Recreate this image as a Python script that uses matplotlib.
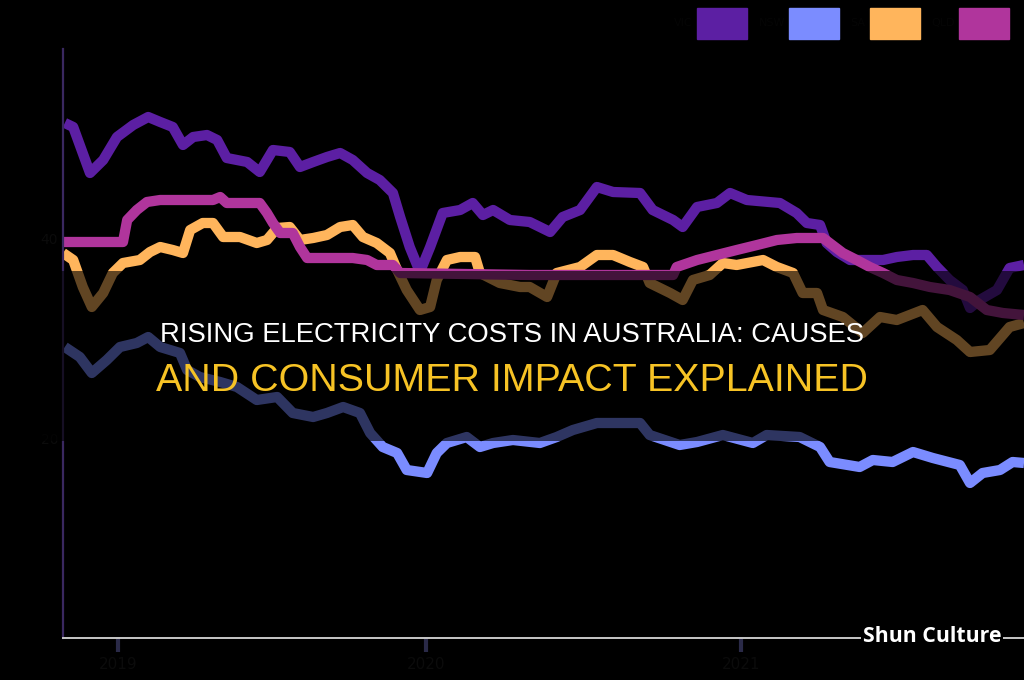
import matplotlib
matplotlib.use("Agg")
import matplotlib.pyplot as plt
from matplotlib.patches import Patch, Rectangle

# ---- data (x in weeks from start, y in c/kWh-like units) ----
series_names = ["VIC", "NSW", "SA", "QLD"]
colors = ["#5c1fa3", "#7b8cff", "#ffb55c", "#b0359c"]

purple_x = [0.3, 1.7, 4.5, 6.7, 9.0, 11.7, 14.2, 16.2, 18.3, 20.0, 21.7, 24.0, 25.7, 27.3, 30.7, 32.8,
            35.0, 37.8, 39.5, 41.7, 44.0, 46.2, 48.3, 50.7, 52.8, 55.0, 56.2, 57.8, 59.5, 61.2, 63.3,
            66.2, 68.3, 70.0, 71.7, 74.5, 77.8, 81.2, 83.3, 86.2, 89.0, 91.7, 96.2, 98.3, 101.7, 103.3,
            105.7, 109.0, 111.2, 114.0, 119.5, 122.3, 124.0, 126.2, 127.3, 129.0, 131.2, 134.5, 136.7,
            139.0, 141.7, 144.0, 145.7, 147.8, 150.0, 151.2, 152.8, 155.7, 157.8, 160.2]
purple_y = [51.5, 51.1, 46.5, 47.8, 50.1, 51.3, 52.1, 51.6, 51.1, 49.3, 50.1, 50.3, 49.8, 48.0, 47.6, 46.6,
            48.8, 48.6, 47.1, 47.6, 48.1, 48.5, 47.8, 46.5, 45.8, 44.5, 42.1, 39.1, 36.6, 39.1, 42.5,
            42.8, 43.5, 42.3, 42.8, 41.8, 41.6, 40.6, 42.1, 42.8, 45.1, 44.6, 44.5, 42.8, 41.8, 41.1,
            43.1, 43.5, 44.5, 43.8, 43.5, 42.5, 41.5, 41.3, 39.5, 38.6, 37.8, 37.8, 37.8,
            38.1, 38.3, 38.3, 37.1, 35.8, 34.8, 33.0, 33.8, 34.8, 37.0, 37.3]

blue_x = [0.3, 2.8, 4.8, 7.3, 9.5, 12.3, 14.2, 16.2, 19.5, 20.7, 22.8, 26.2, 29.0, 32.3, 35.7, 38.3,
          41.7, 44.0, 46.7, 49.5, 51.2, 53.3, 55.7, 57.3, 60.7, 62.3, 64.0, 67.3, 69.5, 71.7, 75.0,
          79.5, 82.3, 85.0, 89.0, 96.2, 97.8, 102.8, 105.7, 110.0, 115.0, 117.3, 122.8, 126.2, 127.8,
          132.8, 135.0, 138.3, 141.7, 145.0, 149.5, 151.2, 153.3, 156.2, 158.3, 160.2]
blue_y = [29.1, 28.1, 26.5, 27.8, 29.1, 29.5, 30.1, 29.1, 28.5, 26.8, 26.1, 25.6, 25.1, 23.8, 24.1, 22.5,
          22.1, 22.5, 23.1, 22.5, 20.5, 19.1, 18.5, 16.8, 16.5, 18.5, 19.5, 20.1, 19.1, 19.5, 19.8,
          19.5, 20.1, 20.8, 21.5, 21.5, 20.3, 19.3, 19.6, 20.3, 19.5, 20.3, 20.1, 19.1, 17.6,
          17.1, 17.8, 17.6, 18.6, 18.0, 17.3, 15.5, 16.5, 16.8, 17.6, 17.5]

orange_x = [0.0, 1.7, 3.3, 4.8, 6.7, 8.3, 10.0, 12.8, 14.5, 16.2, 18.3, 20.0, 21.2, 23.3, 25.0, 26.7,
            29.5, 32.3, 34.0, 35.7, 37.8, 39.5, 41.7, 44.0, 46.2, 48.3, 50.0, 52.3, 54.5, 55.7, 57.3,
            59.5, 61.2, 62.3, 64.0, 66.2, 68.7, 69.5, 72.8, 76.2, 77.8, 80.7, 82.3, 86.2, 89.0, 91.7,
            94.5, 96.7, 97.8, 101.2, 103.3, 105.0, 107.8, 110.0, 112.3, 116.7, 119.0, 121.7, 123.3,
            125.7, 126.7, 130.0, 133.3, 136.2, 139.0, 143.3, 145.7, 149.0, 151.2, 154.5, 157.8, 160.2]
orange_y = [38.5, 37.8, 35.1, 33.1, 34.5, 36.5, 37.5, 37.8, 38.6, 39.1, 38.8, 38.5, 40.8, 41.5, 41.5, 40.1,
            40.1, 39.5, 39.8, 41.0, 41.1, 39.8, 40.0, 40.3, 41.1, 41.3, 40.1, 39.5, 38.5, 36.8, 34.8,
            32.8, 33.1, 35.8, 37.8, 38.1, 38.1, 36.5, 35.5, 35.1, 35.1, 34.1, 36.5, 37.1, 38.3, 38.3,
            37.6, 37.1, 35.5, 34.5, 33.8, 35.8, 36.3, 37.5, 37.3, 37.8, 37.1, 36.5, 34.5,
            34.5, 32.8, 32.1, 30.5, 32.1, 31.8, 32.8, 31.1, 29.8, 28.6, 28.8, 31.1, 31.5]

magenta_x = [0.0, 10.0, 10.7, 12.3, 14.0, 16.2, 25.0, 26.2, 27.3, 32.8, 34.0, 35.0, 36.2, 38.3, 39.5, 40.7,
             48.3, 50.7, 52.3, 55.0, 56.2, 77.8, 101.7, 102.3, 105.7, 109.0, 112.3, 115.7, 119.0, 122.3,
             126.7, 127.8, 130.0, 132.3, 134.5, 136.7, 139.0, 141.7, 144.5, 147.8, 151.2, 154.0, 156.7, 160.2]
magenta_y = [39.6, 39.6, 41.8, 42.8, 43.6, 43.8, 43.8, 44.1, 43.5, 43.5, 42.5, 41.5, 40.5, 40.5, 39.1, 38.0,
             38.0, 37.8, 37.3, 37.3, 36.5, 36.3, 36.3, 37.1, 37.8, 38.3, 38.8, 39.3, 39.8, 40.0,
             40.0, 39.5, 38.5, 37.8, 37.1, 36.5, 35.8, 35.5, 35.1, 34.8, 34.1, 32.8, 32.5, 32.3]

xticks = [9.2, 60.5, 113.0]
xtick_labels = ["2019", "2020", "2021"]

title_line1 = "RISING ELECTRICITY COSTS IN AUSTRALIA: CAUSES"
title_line2 = "AND CONSUMER IMPACT EXPLAINED"
watermark = "Shun Culture"

# ---- figure ----
fig = plt.figure(figsize=(10.24, 6.8), dpi=100, facecolor="black")
ax = fig.add_axes([63 / 1024, 42 / 680, 961 / 1024, 589 / 680])
ax.set_facecolor("black")

all_x = [purple_x, blue_x, orange_x, magenta_x]
all_y = [purple_y, blue_y, orange_y, magenta_y]
for xs, ys, c, name in zip(all_x, all_y, colors, series_names):
    ax.plot(xs, ys, color=c, lw=7.4, solid_joinstyle="round", solid_capstyle="butt", label=name)

ax.set_xlim(0, 160.2)
ax.set_ylim(0, 58.9)

for s in ["top", "right"]:
    ax.spines[s].set_visible(False)
ax.spines["left"].set_color("#3a2860")
ax.spines["left"].set_linewidth(1.6)
ax.spines["bottom"].set_color("#c8c8c8")
ax.spines["bottom"].set_linewidth(1.4)

ax.set_xticks(xticks)
ax.set_xticklabels(xtick_labels, fontsize=11)
ax.tick_params(axis="x", color="#2a2a48", length=10, width=3)
ax.tick_params(axis="x", labelcolor="#0b0b0b")
ax.set_yticks([20, 40])
ax.tick_params(axis="y", length=0, labelcolor="#0b0b0b")

# legend: coloured boxes, labels dark (label placed before each box)
handles = [Patch(facecolor=c, edgecolor=c) for c in colors]
fig.legend(handles, series_names, loc="upper right", bbox_to_anchor=(1019 / 1024, 1.0 + 2 / 680),
           ncol=4, frameon=False, fontsize=8, labelcolor="#050505", markerfirst=False,
           handlelength=4.5, handleheight=3.9, handletextpad=0.4, columnspacing=1.0,
           borderaxespad=0.5)

# dark banner overlay
fig.patches.append(Rectangle((0, 239 / 680), 1, 170 / 680, transform=fig.transFigure,
                             facecolor="black", alpha=0.62, zorder=5))

fig.text(0.5, 1 - 334.5 / 680, title_line1, color="white", ha="center", va="center",
         fontsize=19.8, family="Liberation Sans", zorder=6)
fig.text(0.5, 1 - 381 / 680, title_line2, color="#f7c325", ha="center", va="center",
         fontsize=28.4, family="Liberation Sans", zorder=6)

fig.text(932 / 1024, 1 - 637 / 680, watermark, color="white", ha="center", va="center",
         fontsize=15.3, fontweight="bold", family="Open Sans", zorder=7,
         bbox=dict(facecolor="black", edgecolor="none", pad=1.5))

fig.savefig("out.png", dpi=100, facecolor="black")
